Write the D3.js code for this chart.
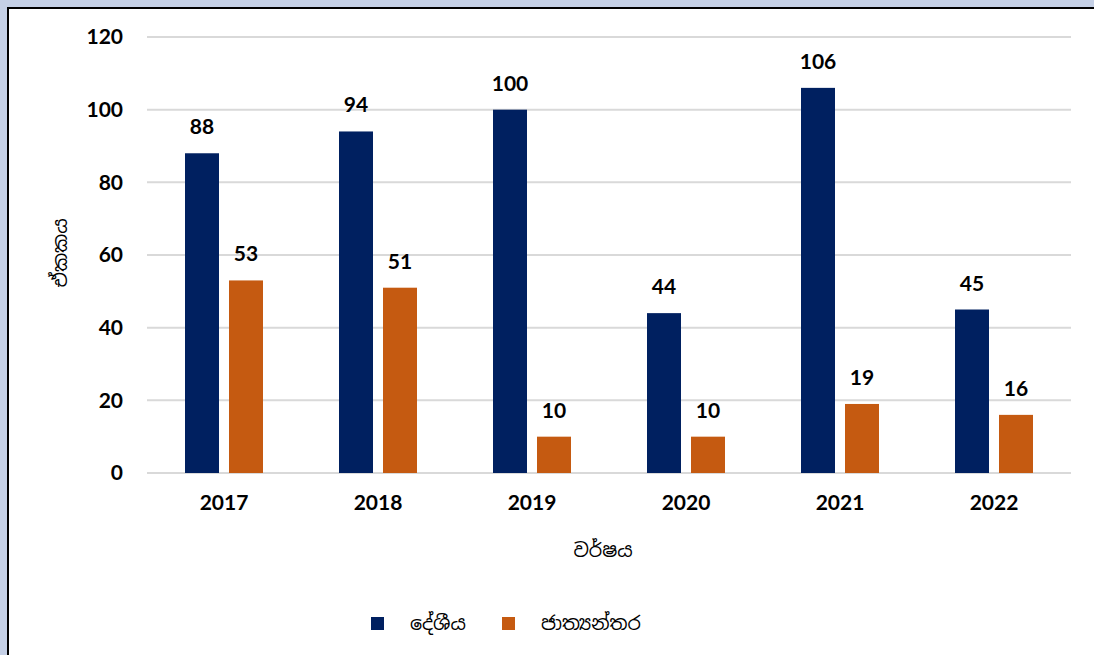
<!DOCTYPE html>
<html>
<head>
<meta charset="utf-8">
<script src="https://cdn.jsdelivr.net/npm/d3@7"></script>
<style>
  html, body { margin: 0; padding: 0; background: #c5d0e6; overflow: hidden; }
  #plot { position: absolute; left: 7px; top: 7px; width: 1087px; height: 648px;
          background: #fff; border-left: 2px solid #000; border-top: 2px solid #000; }
  svg { overflow: visible; }
  text { font-family: Lato, Calibri, "Noto Sans", "Noto Sans Sinhala", sans-serif; }
</style>
</head>
<body>
<div id="plot"></div>
<script>
// data
const years = ["2017", "2018", "2019", "2020", "2021", "2022"];
const local = [88, 94, 100, 44, 106, 45];
const intl = [53, 51, 10, 10, 19, 16];
const seriesNames = ["දේශීය", "ජාත්‍යන්තර"];
const colors = ["#002060", "#c55a11"];
const yTicks = [0, 20, 40, 60, 80, 100, 120];

const w = 1085, h = 646;
// offsets inside the white panel (panel starts at 9,9 in page)
var margin = {top: 28, right: 23, bottom: 182, left: 138},
    innerWidth = w - margin.left - margin.right,
    innerHeight = h - margin.top - margin.bottom;

var svg = d3.select("div#plot")
  .append("svg")
    .attr("width", w)
    .attr("height", h)
  .append("g")
    .attr("transform", `translate (${margin.left}, ${margin.top})`);

var xScale = d3.scaleBand()
  .domain(years)
  .range([0, innerWidth]);

var yScale = d3.scaleLinear()
  .domain([0, 120])
  .range([innerHeight, 0]);

// gridlines
svg.append("g")
  .selectAll("line")
  .data(yTicks)
  .enter().append("line")
    .attr("x1", 0)
    .attr("x2", innerWidth)
    .attr("y1", d => yScale(d))
    .attr("y2", d => yScale(d))
    .style("stroke", "#d9d9d9")
    .style("stroke-width", 2);

// y axis labels
var yAxis = svg.append("g")
  .call(d3.axisLeft(yScale).tickValues(yTicks).tickSize(0).tickPadding(24));
yAxis.select(".domain").remove();
yAxis.selectAll("text")
  .style("font-size", "21px")
  .style("font-weight", "bold")
  .style("fill", "#000");

// x axis labels
var xAxis = svg.append("g")
  .attr("transform", `translate (0, ${innerHeight})`)
  .call(d3.axisBottom(xScale).tickSize(0).tickPadding(22));
xAxis.select(".domain").remove();
xAxis.selectAll("text")
  .style("font-size", "21px")
  .style("font-weight", "bold")
  .style("fill", "#000");

// bars
const barW = 34, gap = 10;
var sub = d3.scaleOrdinal().domain([0, 1]).range([-gap / 2 - barW, gap / 2]);

[local, intl].forEach(function(vals, s) {
  var g = svg.append("g");
  g.selectAll("rect")
    .data(vals)
    .enter().append("rect")
      .attr("x", (d, i) => xScale(years[i]) + xScale.bandwidth() / 2 + sub(s))
      .attr("y", d => yScale(d))
      .attr("width", barW)
      .attr("height", d => innerHeight - yScale(d))
      .attr("fill", colors[s]);
  g.selectAll("text")
    .data(vals)
    .enter().append("text")
      .attr("x", (d, i) => xScale(years[i]) + xScale.bandwidth() / 2 + sub(s) + barW / 2)
      .attr("y", d => yScale(d) - 19)
      .attr("text-anchor", "middle")
      .style("font-size", "21px")
      .style("font-weight", "bold")
      .text(d => d);
});

// axis titles
svg.append("text")
  .attr("transform", "rotate(-90)")
  .attr("x", -(yScale(60) - 2))
  .attr("y", -80)
  .attr("text-anchor", "middle")
  .style("font-size", "19px")
  .text("ඒකකය");

svg.append("text")
  .attr("x", innerWidth / 2 - 6)
  .attr("y", innerHeight + 84)
  .attr("text-anchor", "middle")
  .style("font-size", "19px")
  .text("වර්ෂය");

// legend
var legX = [224, 355];
seriesNames.forEach(function(name, i) {
  svg.append("rect")
    .attr("x", legX[i])
    .attr("y", innerHeight + 144)
    .attr("width", 13)
    .attr("height", 13)
    .attr("fill", colors[i]);
  svg.append("text")
    .attr("x", legX[i] + 39)
    .attr("y", innerHeight + 157)
    .style("font-size", "19px")
    .text(name);
});
</script>
</body>
</html>
